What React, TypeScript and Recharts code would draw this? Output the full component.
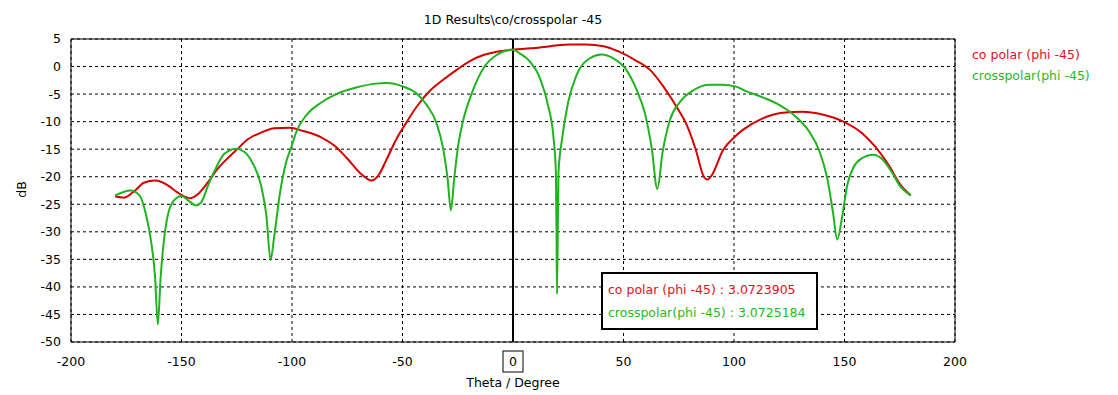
import React from "react";
import {
  LineChart,
  Line,
  XAxis,
  YAxis,
  CartesianGrid,
  ReferenceLine,
} from "recharts";

// co polar (phi -45)
const coTheta = [
  -180, -176, -171, -167, -162, -156, -152, -146, -143, -138, -133.5, -129,
  -124.5, -120, -114, -108, -101, -95, -87, -81, -75, -69, -64, -61, -57,
  -52.7, -48, -43.6, -37.6, -31.6, -25.5, -19.5, -13.4, -7.4, 0, 8, 17, 26,
  33, 41, 48, 56, 62, 68, 74, 78.6, 83, 86, 88, 90, 95, 100.5, 104, 113, 122,
  131, 140, 149, 158, 164, 170, 175, 180,
];
const coDb = [
  -23.6, -23.8, -22.5, -21.1, -20.7, -21.6, -22.8, -23.9, -23.3, -21.0, -18.5,
  -16.6, -14.9, -13.2, -12.0, -11.2, -11.1, -11.7, -12.8, -14.3, -16.7, -19.4,
  -20.7, -19.8, -16.7, -13.1, -10.0, -7.3, -4.4, -2.4, -0.6, 1.0, 2.1, 2.7,
  3.07, 3.3, 3.7, 4.0, 4.0, 3.7, 2.7, 1.0, -0.6, -3.6, -7.3, -10.6, -15.5,
  -19.7, -20.5, -19.7, -15.2, -12.7, -11.5, -9.4, -8.4, -8.2, -8.7, -9.9,
  -12.1, -14.6, -17.9, -21.3, -23.4,
];

// crosspolar(phi -45)
const crossTheta = [
  -180, -173, -169, -166, -163.7, -162, -160.7, -159.5, -157.7, -155.4,
  -152.4, -150, -147, -143.4, -141, -138, -135, -130.5, -125.2, -121.5,
  -117.7, -114, -111.6, -109.7, -108, -105.6, -102.6, -100.3, -98, -93.5,
  -87.4, -80, -71, -62, -57, -50, -43.6, -39, -34.6, -31.6, -29.6, -28.1,
  -26.6, -24.8, -22.5, -18.7, -13.4, -7.4, 0, 3, 7.7, 12.2, 16, 18.2, 19.4,
  19.7, 19.9, 20.6, 22, 25, 28.8, 34.8, 40, 45.4, 50.7, 56, 59.7, 62.8, 65.3,
  67.7, 71, 75.6, 81.6, 89, 95, 100.5, 105.7, 113, 120.6, 128, 134, 138.5,
  142.2, 144.8, 146.7, 149, 151.2, 154.2, 158, 163, 167, 171.3, 175, 180,
];
const crossDb = [
  -23.4, -22.5, -23.4, -27, -31.9, -38, -46.8, -38.6, -30.7, -25.8, -23.9,
  -23.5, -24.3, -25.2, -24.6, -21.6, -18.9, -15.8, -14.9, -15.5, -17.6, -21.6,
  -27, -35.1, -30.7, -23.4, -17.3, -14.6, -11.8, -8.8, -6.7, -5.0, -3.8, -3.1,
  -3.0, -3.6, -4.9, -7.0, -10.3, -14.9, -20.3, -26.1, -20.3, -14.3, -9.7,
  -4.9, -0.3, 2.1, 3.07, 2.4, 0.9, -2.1, -7.3, -12.4, -19.1, -30.1, -41.3,
  -19.1, -13.7, -6.4, -1.5, 1.5, 2.2, 1.5, -0.3, -4.3, -8.5, -14.9, -22.2,
  -15.5, -9.7, -6.4, -4.3, -3.3, -3.3, -3.6, -4.5, -5.6, -7.0, -9.1, -11.8,
  -15.2, -20.3, -26.5, -31.4, -27.1, -21.6, -18.2, -16.6, -16.0, -16.8, -19.1,
  -21.6, -23.4,
];

const xTicks = [-200, -150, -100, -50, 0, 50, 100, 150, 200];
const yTicks = [-50, -45, -40, -35, -30, -25, -20, -15, -10, -5, 0, 5];

const coData = coTheta.map((t, i) => ({ theta: t, db: coDb[i] }));
const crossData = crossTheta.map((t, i) => ({ theta: t, db: crossDb[i] }));

const RED = "#d40000";
const GREEN = "#1fb31f";
const FONT = "'DejaVu Sans', sans-serif";
const FS = 12.5;

const XTick = (props: any) => {
  const { x, y, payload } = props;
  const zero = payload.value === 0;
  return (
    <g>
      {zero && (
        <rect x={x - 10} y={y + 7} width={20} height={21} fill="none" stroke="#000" />
      )}
      <text x={x} y={y + 22} textAnchor="middle" fontSize={FS} fontFamily={FONT} fill="#000">
        {payload.value}
      </text>
    </g>
  );
};

const abs = (l: number, t: number): React.CSSProperties => ({
  position: "absolute",
  left: l,
  top: t,
  fontFamily: FONT,
  fontSize: FS,
  whiteSpace: "nowrap",
  lineHeight: "15px",
});

export default function App() {
  return (
    <div style={{ position: "absolute", left: 0, top: 0, width: 1118, height: 395, background: "#fff" }}>
      <LineChart
        width={1118}
        height={395}
        margin={{ top: 39, right: 163, left: 11, bottom: 23 }}
      >
        <CartesianGrid stroke="#000" strokeDasharray="3 3" horizontalValues={yTicks} verticalValues={xTicks} />
        <XAxis
          type="number"
          dataKey="theta"
          domain={[-200, 200]}
          ticks={xTicks}
          height={30}
          tickSize={0}
          tick={<XTick />}
          axisLine={{ stroke: "#000" }}
          allowDuplicatedCategory={false}
        />
        <YAxis
          type="number"
          dataKey="db"
          domain={[-50, 5]}
          ticks={yTicks}
          width={60}
          tickSize={0}
          tickMargin={10}
          tick={{ fill: "#000", fontSize: FS, fontFamily: FONT }}
          axisLine={{ stroke: "#000" }}
        />
        <ReferenceLine y={5} stroke="#000" strokeWidth={1} />
        <ReferenceLine x={200} stroke="#000" strokeWidth={1} />
        <ReferenceLine x={0} stroke="#000" strokeWidth={2} />
        <Line
          data={coData}
          dataKey="db"
          type="monotone"
          stroke={RED}
          strokeWidth={2}
          dot={false}
          isAnimationActive={false}
        />
        <Line
          data={crossData}
          dataKey="db"
          type="monotone"
          stroke={GREEN}
          strokeWidth={2}
          dot={false}
          isAnimationActive={false}
        />
      </LineChart>

      <div style={{ ...abs(0, 12), width: 1026, textAlign: "center" }}>1D Results\co/crosspolar -45</div>
      <div style={{ ...abs(972, 47), color: "#e0101a" }}>co polar (phi -45)</div>
      <div style={{ ...abs(972, 68), color: "#22bb22" }}>crosspolar(phi -45)</div>
      <div style={{ ...abs(0, 375), width: 1026, textAlign: "center" }}>Theta / Degree</div>
      <div style={{ ...abs(13, 182), transform: "rotate(-90deg)" }}>dB</div>

      <div
        style={{
          position: "absolute",
          left: 601,
          top: 272,
          width: 213,
          height: 54,
          border: "2px solid #000",
          background: "#fff",
        }}
      >
        <div style={{ ...abs(5, 8), color: "#e0101a" }}>co polar (phi -45) : 3.0723905</div>
        <div style={{ ...abs(5, 31), color: "#22bb22" }}>crosspolar(phi -45) : 3.0725184</div>
      </div>
    </div>
  );
}
